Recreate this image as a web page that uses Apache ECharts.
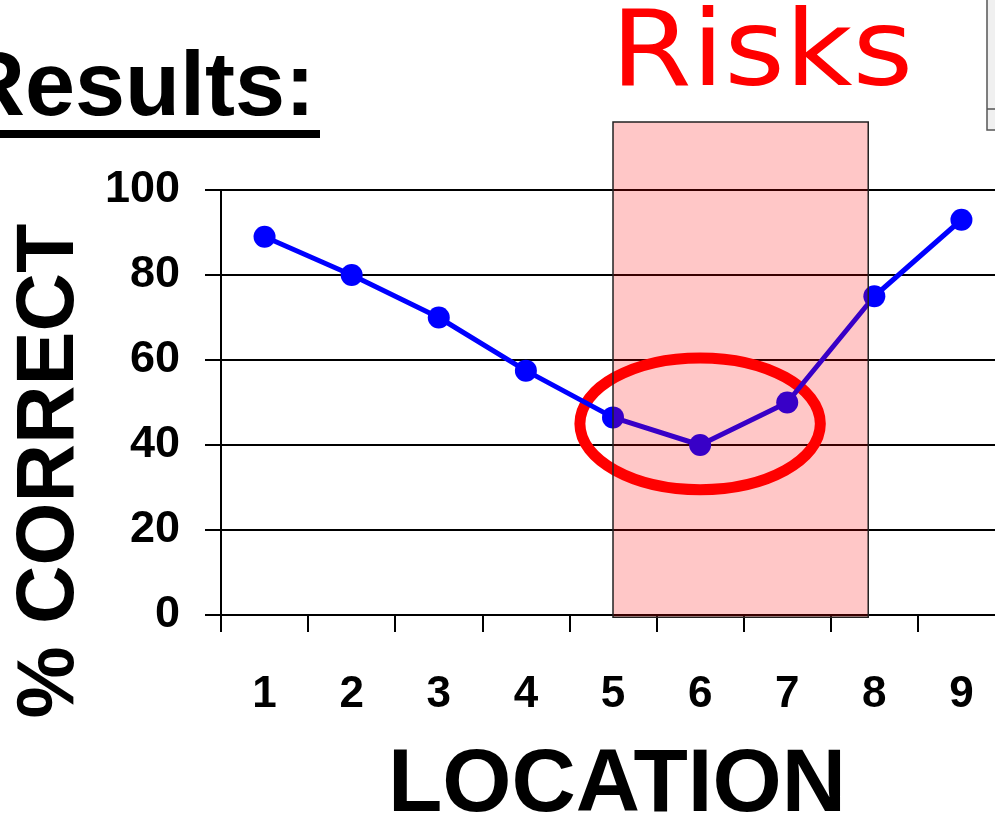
<!DOCTYPE html>
<html>
<head>
<meta charset="utf-8">
<script src="https://cdn.jsdelivr.net/npm/echarts@6/dist/echarts.min.js"></script>
<style>
    html, body {margin: 0; padding: 0; background: #fff; overflow: hidden;}
    /* plot runs past the right edge of the window, like the original slide crop */
    #chart {width: 1010px; height: 819px;}
</style>
</head>
<body>
<div id="chart"></div>
<script>
let locations = ["1", "2", "3", "4", "5", "6", "7", "8", "9"]
let percentCorrect = [89, 80, 70, 57.5, 46.5, 40, 50, 75, 93]
let yTicks = [0, 20, 40, 60, 80, 100]

let riskFrom = "5"
let riskTo = "8"
let font = "Liberation Sans"

let chart = echarts.init(document.getElementById("chart"))

let option = {
    animation: false,
    grid: {left: 221, top: 190, width: 784, height: 425},
    xAxis: {
        type: "category",
        data: locations,
        boundaryGap: true,
        axisLine: {lineStyle: {color: "#000", width: 2}},
        axisTick: {show: true, alignWithLabel: false, length: 17, lineStyle: {color: "#000", width: 2}},
        axisLabel: {color: "#000", fontSize: 44, fontWeight: "bold", fontFamily: font, margin: 58}
    },
    yAxis: {
        type: "value",
        min: yTicks[0],
        max: yTicks[yTicks.length - 1],
        interval: 20,
        axisLine: {show: true, lineStyle: {color: "#000", width: 2}},
        axisTick: {show: true, length: 16, lineStyle: {color: "#000", width: 2}},
        splitLine: {lineStyle: {color: "#000", width: 2}},
        axisLabel: {color: "#000", fontSize: 45, fontWeight: "bold", fontFamily: font, margin: 41}
    },
    series: [{
        type: "line",
        data: percentCorrect,
        z: 5,
        symbol: "circle",
        symbolSize: 22,
        lineStyle: {color: "#0000ff", width: 5},
        itemStyle: {color: "#0000ff"}
    }]
}
chart.setOption(option)

// annotations placed from axis coordinates
let px = function (cat, val) {
    return chart.convertToPixel({gridIndex: 0}, [cat, val])
}
let boxLeft = px(riskFrom, 0)[0]
let prevX = px("7", 0)[0]
let boxRight = prevX + 0.93 * (px(riskTo, 0)[0] - prevX)
let boxTop = px(riskFrom, 116)[1]
let boxBottom = px(riskFrom, -0.5)[1]
let ringCenter = px("6", 45)
let ringRx = 1.38 * (px("7", 0)[0] - px("6", 0)[0])
let ringRy = px("6", 0)[1] - px("6", 15.5)[1]

chart.setOption({
    graphic: [{
        type: "ellipse",
        z: 3,
        shape: {cx: ringCenter[0], cy: ringCenter[1], rx: ringRx, ry: ringRy},
        style: {fill: "none", stroke: "#ff0000", lineWidth: 11}
    }, {
        type: "rect",
        z: 10,
        shape: {x: boxLeft, y: boxTop, width: boxRight - boxLeft, height: boxBottom - boxTop},
        style: {fill: "rgba(255,0,0,0.22)", stroke: "#222", lineWidth: 1.5}
    }, {
        type: "rect",
        z: 10,
        shape: {x: 987, y: -2, width: 20, height: 132},
        style: {fill: "#f0f0f0", stroke: "#555", lineWidth: 1.5}
    }, {
        type: "line",
        z: 11,
        shape: {x1: 987, y1: 109, x2: 1000, y2: 109},
        style: {stroke: "#555", lineWidth: 1.5}
    }, {
        type: "text",
        z: 10,
        style: {
            text: "Results:", x: 315, y: 90, align: "right", verticalAlign: "middle",
            font: "bold 90px " + font, fill: "#000"
        }
    }, {
        type: "rect",
        z: 10,
        shape: {x: -5, y: 130, width: 325, height: 8},
        style: {fill: "#000"}
    }, {
        type: "text",
        z: 10,
        x: 762,
        y: 57,
        scaleX: 1.1,
        style: {
            text: "Risks", x: 0, y: 0, align: "center", verticalAlign: "middle",
            font: "106px 'DejaVu Sans'", fill: "#ff0000"
        }
    }, {
        type: "text",
        z: 10,
        x: 51,
        y: 471,
        rotation: Math.PI / 2,
        style: {
            text: "% CORRECT", x: 0, y: 0, align: "center", verticalAlign: "middle",
            font: "bold 81px " + font, fill: "#000"
        }
    }, {
        type: "text",
        z: 10,
        style: {
            text: "LOCATION", x: 617, y: 786, align: "center", verticalAlign: "middle",
            font: "bold 89px " + font, fill: "#000"
        }
    }]
})
</script>
</body>
</html>
